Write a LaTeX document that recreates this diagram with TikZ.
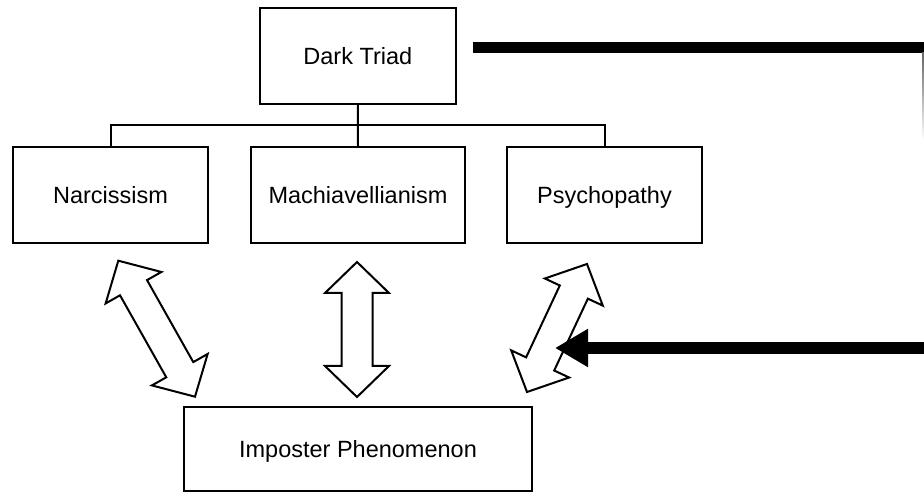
\documentclass[tikz,border=0pt]{standalone}
\usepackage{fontspec}
\setmainfont{Liberation Sans}
\usetikzlibrary{calc,arrows.meta}

\tikzset{
  box/.style={draw, line width=2pt, inner sep=0pt,
    text height=17pt, text depth=0pt,
    font=\fontsize{23.5}{28}\selectfont},
  tree/.style={line width=2pt},
  dblarrow/.style={draw, fill=white, line width=2pt, line join=miter},
  heavy/.style={line width=11.5pt, line cap=butt},
}

% Hollow two-headed block arrow between two named coordinates
% (head length 31, head width 64, shaft width 31)
\newcommand\twowayarrow[2]{%
  \coordinate (tw-ha) at ($(#1)!31pt!(#2)$);
  \coordinate (tw-hb) at ($(#2)!31pt!(#1)$);
  \path[dblarrow] (#1)
    -- ($(tw-ha)!32pt!90:(#2)$)
    -- ($(tw-ha)!15.5pt!90:(#2)$)
    -- ($(tw-hb)!15.5pt!-90:(#1)$)
    -- ($(tw-hb)!32pt!-90:(#1)$)
    -- (#2)
    -- ($(tw-hb)!32pt!90:(#1)$)
    -- ($(tw-hb)!15.5pt!90:(#1)$)
    -- ($(tw-ha)!15.5pt!-90:(#2)$)
    -- ($(tw-ha)!32pt!-90:(#2)$)
    -- cycle;
}

\begin{document}
\begin{tikzpicture}[x=1pt,y=-1pt]
\useasboundingbox (0,0) rectangle (924,494);

% boxes
\node[box, minimum width=196pt, minimum height=96pt] (dt) at (357.8,55.6) {Dark Triad};
\node[box, minimum width=195pt, minimum height=96pt] (narc) at (110.5,195) {Narcissism};
\node[box, minimum width=214pt, minimum height=96pt] (mach) at (358,195) {Machiavellianism};
\node[box, minimum width=195pt, minimum height=96pt] (psy) at (604.5,195) {Psychopathy};
\node[box, minimum width=348pt, minimum height=84pt] (ip) at (358,449) {Imposter Phenomenon};

% tree connecting the Dark Triad to its three traits
\coordinate (bus) at (358,125);
\draw[tree] (narc.north) |- (bus) -| (psy.north);
\draw[tree] (dt.south) -- (mach.north);

% two-headed arrows between traits and the imposter phenomenon
\coordinate (n-top) at (118.3,260.7);
\coordinate (n-bot) at (195,396.7);
\coordinate (m-top) at (357,262);
\coordinate (m-bot) at (357,397);
\coordinate (p-top) at (587,264);
\coordinate (p-bot) at (527,392);
\twowayarrow{n-top}{n-bot}
\twowayarrow{m-top}{m-bot}
\twowayarrow{p-top}{p-bot}

% heavy line leaving the Dark Triad to the right
\coordinate (out-a) at (473,47.5);
\coordinate (out-b) at (924,47.5);
\draw[heavy] (out-a) -- (out-b);
\shade[top color=black!60, bottom color=white] (922,53) rectangle (924,140);

% heavy arrow coming back in
\coordinate (in-a) at (924,348);
\coordinate (in-b) at (555,348);
\draw[line width=12pt, -{Triangle[length=33pt,width=36pt]}] (in-a) -- (in-b);
\end{tikzpicture}
\end{document}
